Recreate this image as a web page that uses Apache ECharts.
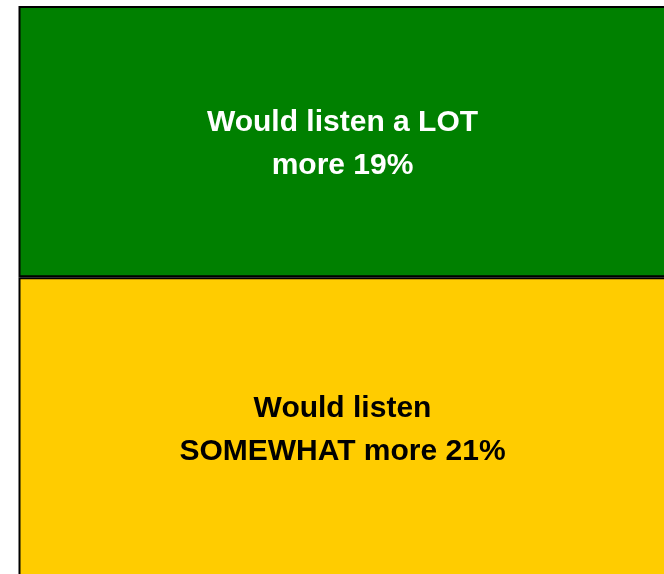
<!DOCTYPE html>
<html><head><meta charset="utf-8">
<script src="https://cdn.jsdelivr.net/npm/echarts@6/dist/echarts.min.js"></script>
<style>html,body{margin:0;padding:0;background:#fff}#c{width:664px;height:574px}</style>
</head><body><div id="c"></div>
<script>
var categories = ['Listening'];
var somewhatMore = [21];
var lotMore = [19];
var somewhatLabel = 'Would listen\nSOMEWHAT more 21%';
var lotLabel = 'Would listen a LOT\nmore 19%';

var chart = echarts.init(document.getElementById('c'));
chart.setOption({
  animation: false,
  grid: {left: 18.5, top: 6, width: 648, height: 571, containLabel: false, outerBoundsMode: 'none'},
  xAxis: {type: 'category', data: categories, show: false},
  yAxis: {type: 'value', min: 0, max: 40, show: false},
  series: [
    {type: 'bar', stack: 's', data: somewhatMore, barWidth: '100%',
     itemStyle: {color: '#FFCC00', borderColor: '#000', borderWidth: 2},
     label: {show: true, position: 'inside', offset: [0, 3], formatter: somewhatLabel, color: '#000',
       fontFamily: 'Liberation Sans, Arial, sans-serif', fontWeight: 'bold', fontSize: 30, lineHeight: 43}},
    {type: 'bar', stack: 's', data: lotMore, barWidth: '100%',
     itemStyle: {color: '#008000', borderColor: '#000', borderWidth: 2},
     label: {show: true, position: 'inside', offset: [0, 3], formatter: lotLabel, color: '#fff',
       fontFamily: 'Liberation Sans, Arial, sans-serif', fontWeight: 'bold', fontSize: 30, lineHeight: 43}}
  ]
});
</script></body></html>
